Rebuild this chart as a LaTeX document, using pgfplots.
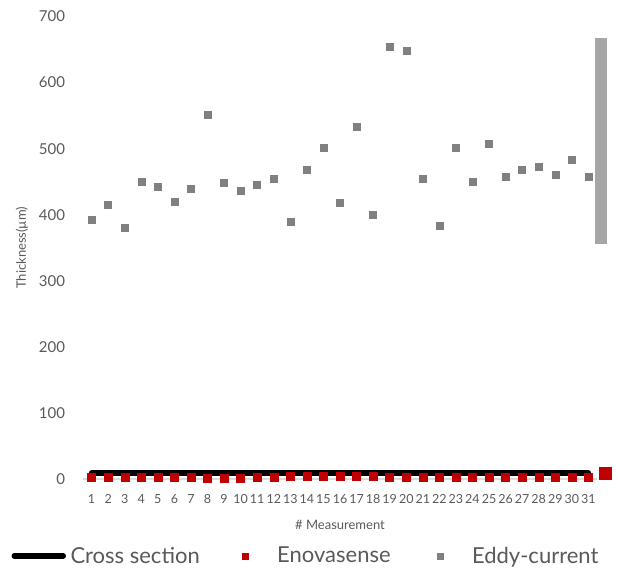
\documentclass[border=0pt]{standalone}
\usepackage{fontspec}
\setmainfont{Lato}
\usepackage{pgfplots}
\usepackage{pgfplotstable}
\pgfplotsset{compat=1.18}

\definecolor{txtgray}{HTML}{595959}
\definecolor{enored}{HTML}{C00000}
\definecolor{eddygray}{HTML}{808080}
\definecolor{bargray}{HTML}{A6A6A6}
\definecolor{basegray}{HTML}{D9D9D9}

% measurement, cross section, Enovasense, eddy-current (um)
\pgfplotstableread{
n cross eno eddy
1  9 2 393
2  9 2 415
3  9 2 381
4  9 2 450
5  9 2 442
6  9 2 420
7  9 2 439
8  9 1 552
9  9 1 448
10 9 1 436
11 9 3 445
12 9 3 454
13 9 4 389
14 9 4 468
15 9 4 501
16 9 4 418
17 9 4 533
18 9 4 400
19 9 3 654
20 9 3 648
21 9 2 454
22 9 2 384
23 9 2 501
24 9 2 450
25 9 2 507
26 9 2 458
27 9 2 468
28 9 2 472
29 9 2 460
30 9 2 483
31 9 2 457
}\thick

\begin{document}
\begin{tikzpicture}[x=1pt,y=1pt]
\useasboundingbox (0,0) rectangle (618,569);
\begin{axis}[
  at={(83.3pt,90pt)}, anchor=south west,
  scale only axis, width=513.4pt, height=462.5pt,
  xmin=0.5, xmax=31.5, ymin=0, ymax=700,
  clip=false,
  axis x line*=bottom, axis y line*=left,
  x axis line style={basegray, line width=1.3pt, -},
  y axis line style={draw=none},
  major tick length=0pt,
  xtick={1,...,31}, ytick={0,100,...,700},
  /pgf/number format/assume math mode=true,
  xticklabel style={font=\fontsize{12.5}{14}\selectfont, text=txtgray, inner sep=0pt, yshift=-15pt},
  yticklabel style={font=\fontsize{15}{17}\selectfont, text=txtgray, inner sep=0pt, xshift=-18pt},
  xlabel={\# Measurement},
  ylabel={Thickness(µm)},
  xlabel style={font=\fontsize{13}{15}\selectfont, text=txtgray, at={(axis description cs:0.5,-0.0985)}, anchor=center},
  ylabel style={font=\fontsize{13}{15}\selectfont, text=txtgray, at={(axis description cs:-0.1194,0.5)}, anchor=center},
  legend columns=3,
  legend style={at={(axis description cs:-0.1554,-0.166)}, anchor=west, draw=none, fill=none,
    inner sep=0pt, outer sep=0pt,
    font=\fontsize{22}{25}\selectfont, text=txtgray,
    nodes={inner sep=0pt},
    /tikz/every odd column/.append style={column sep=4.5pt},
    /tikz/column 2/.append style={column sep=14.5pt},
    /tikz/column 4/.append style={column sep=18.5pt}},
]
\addplot[black, line width=5.5pt, line cap=round,
  legend image code/.code={\path (0pt,0pt) (56pt,0pt);
    \draw[black, line width=5.5pt, line cap=round] (8pt,0pt) -- (57pt,0pt);}]
  table[x=n, y=cross] {\thick};
\addlegendentry{Cross section}
\addplot[only marks, mark=square*, mark size=4pt, mark options={draw=enored, fill=enored},
  legend image code/.code={\path (0pt,0pt) (58pt,0pt);
    \draw[mark=square*, mark size=3pt, mark options={draw=enored, fill=enored}] plot coordinates {(31pt,0pt)};}]
  table[x=n, y=eno] {\thick};
\addlegendentry{Enovasense}
\addplot[only marks, mark=square*, mark size=3.5pt, mark options={draw=eddygray, fill=eddygray},
  legend image code/.code={\path (0pt,0pt) (58pt,0pt);
    \draw[mark=square*, mark size=3pt, mark options={draw=eddygray, fill=eddygray}] plot coordinates {(31pt,0pt)};}]
  table[x=n, y=eddy] {\thick};
\addlegendentry{Eddy-current}
% stray items drawn right of the plot area
\addplot[bargray, line width=11.7pt, forget plot] coordinates {(31.78,355) (31.78,668)};
\addplot[only marks, mark=square*, mark size=6pt, mark options={draw=enored, fill=enored}, forget plot]
  coordinates {(32,9)};
\end{axis}
\end{tikzpicture}
\end{document}
